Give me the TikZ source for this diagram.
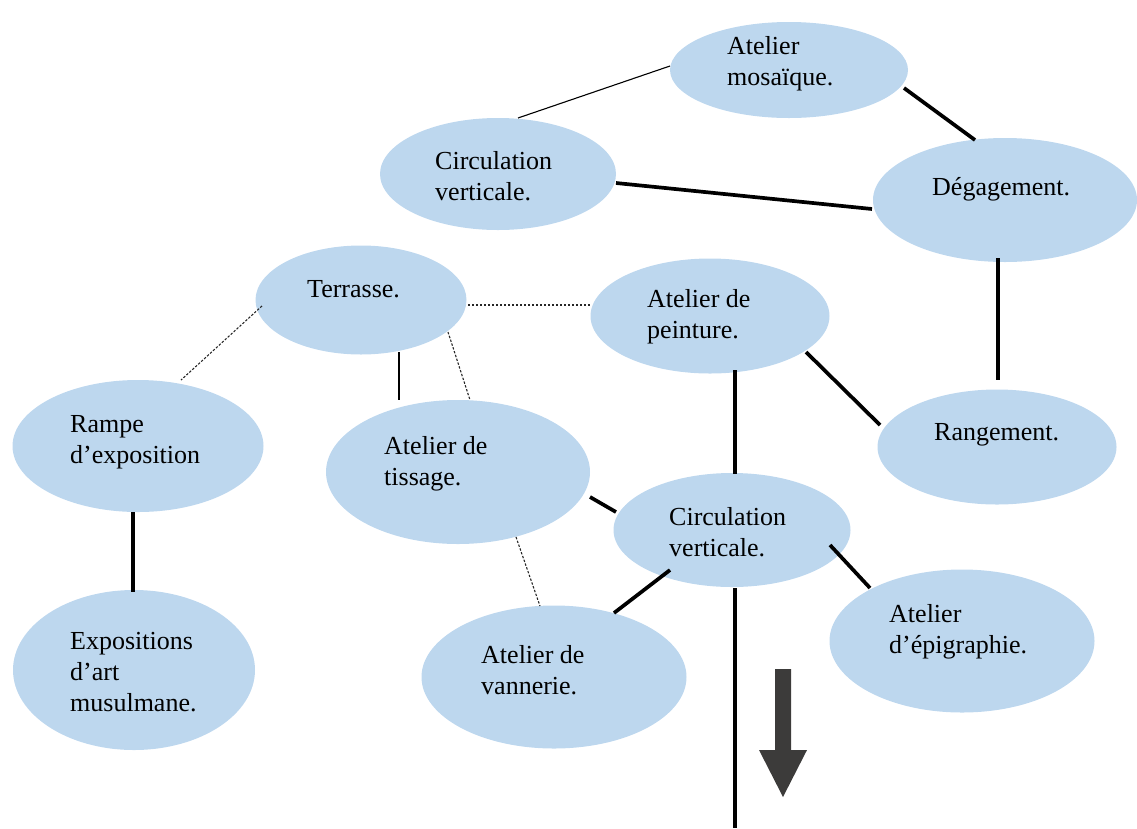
\documentclass[tikz,border=0pt]{standalone}
\usepackage{fontspec}
\setmainfont{Liberation Serif}
\usetikzlibrary{shapes.geometric}
\definecolor{bub}{HTML}{BDD7EE}
\definecolor{arr}{HTML}{3C3B3A}
\begin{document}
\begin{tikzpicture}[x=1pt,y=-1pt,
  bubble/.style={ellipse,fill=bub,draw=none,inner sep=0pt},
  lbl/.style={anchor=west,align=left,inner sep=0pt,font=\fontsize{26}{31}\selectfont},
  heavy/.style={line width=3.7pt,black},
  fine/.style={line width=1.1pt,black},
  dots/.style={line width=1.1pt,black!85,dash pattern=on 2.4pt off 1.6pt}]
\useasboundingbox (0,0) rectangle (1137,828);
% bubbles
\node[bubble,minimum width=238,minimum height=96] (mos) at (789,70) {};
\node[bubble,minimum width=236,minimum height=112] (cv1) at (498,174) {};
\node[bubble,minimum width=264,minimum height=124] (deg) at (1005,200) {};
\node[bubble,minimum width=211,minimum height=109] (ter) at (361,300) {};
\node[bubble,minimum width=239,minimum height=115] (pei) at (710,316) {};
\node[bubble,minimum width=239,minimum height=115] (ran) at (997,447) {};
\node[bubble,minimum width=251,minimum height=132] (ram) at (138,446) {};
\node[bubble,minimum width=264,minimum height=144] (tis) at (458,472) {};
\node[bubble,minimum width=237,minimum height=114] (cv2) at (732,530) {};
\node[bubble,minimum width=265,minimum height=143] (epi) at (962,641) {};
\node[bubble,minimum width=242,minimum height=160] (exp) at (134,670) {};
\node[bubble,minimum width=265,minimum height=143] (van) at (554,677) {};
% labels
\node[lbl] (tmos) at (727,64) {Atelier\\mosaïque.};
\node[lbl] (tcv1) at (435,176) {Circulation\\verticale.};
\node[lbl] (tdeg) at (932,189) {Dégagement.};
\node[lbl] (tter) at (307,289) {Terrasse.};
\node[lbl] (tpei) at (647,317) {Atelier de\\peinture.};
\node[lbl] (tran) at (934,435) {Rangement.};
\node[lbl] (tram) at (70,442) {Rampe\\d’exposition};
\node[lbl] (ttis) at (384,464) {Atelier de\\tissage.};
\node[lbl] (tcv2) at (669,532) {Circulation\\verticale.};
\node[lbl] (tepi) at (889,632) {Atelier\\d’épigraphie.};
\node[lbl] (texp) at (70,672) {Expositions\\d’art\\musulmane.};
\node[lbl] (tvan) at (481,670) {Atelier de\\vannerie.};
% connector end points
\coordinate (a1) at (670,66);   \coordinate (a2) at (518,118);
\coordinate (b1) at (904,88);   \coordinate (b2) at (975,140);
\coordinate (c1) at (616,183);  \coordinate (c2) at (872,209);
\coordinate (d1) at (998,258);  \coordinate (d2) at (998,380);
\coordinate (e1) at (468,305);  \coordinate (e2) at (590,305);
\coordinate (f1) at (262,306);  \coordinate (f2) at (181,380);
\coordinate (g1) at (399,352);  \coordinate (g2) at (399,400);
\coordinate (h1) at (448,332);  \coordinate (h2) at (470,400);
\coordinate (i1) at (806,352);  \coordinate (i2) at (880,425);
\coordinate (j1) at (735,370);  \coordinate (j2) at (735,474);
\coordinate (k1) at (590,497);  \coordinate (k2) at (616,512);
\coordinate (l1) at (516,537);  \coordinate (l2) at (540,606);
\coordinate (m1) at (670,570);  \coordinate (m2) at (614,613);
\coordinate (n1) at (830,545);  \coordinate (n2) at (870,588);
\coordinate (o1) at (735,588);  \coordinate (o2) at (735,828);
\coordinate (p1) at (133,512);  \coordinate (p2) at (133,592);
% connectors
\draw[fine] (a1) -- (a2);
\draw[heavy] (b1) -- (b2);
\draw[heavy] (c1) -- (c2);
\draw[heavy] (d1) -- (d2);
\draw[dots] (e1) -- (e2);
\draw[dots] (f1) -- (f2);
\draw[fine] (g1) -- (g2);
\draw[dots] (h1) -- (h2);
\draw[heavy] (i1) -- (i2);
\draw[heavy] (j1) -- (j2);
\draw[heavy] (k1) -- (k2);
\draw[dots] (l1) -- (l2);
\draw[heavy] (m1) -- (m2);
\draw[heavy] (n1) -- (n2);
\draw[heavy] (o1) -- (o2);
\draw[heavy] (p1) -- (p2);
% block arrow
\fill[arr] (775,669) -- (791,669) -- (791,750) -- (807,750) -- (783,797) -- (759,750) -- (775,750) -- cycle;
\end{tikzpicture}
\end{document}
